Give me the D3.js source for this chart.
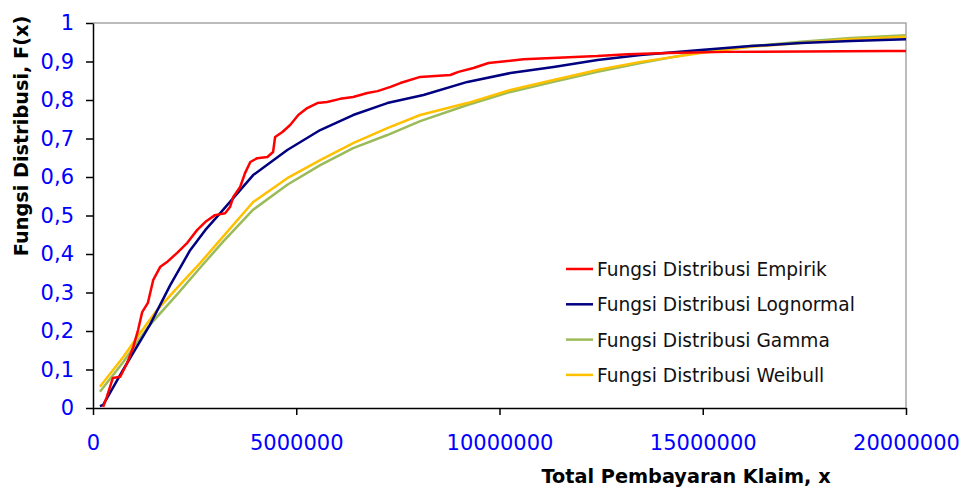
<!DOCTYPE html>
<html>
<head>
<meta charset="utf-8">
<script src="https://cdn.jsdelivr.net/npm/d3@7"></script>
<style>
body { margin: 0; background: #fff; }
svg { display: block; font-family: "DejaVu Sans", Verdana, sans-serif; }
</style>
</head>
<body>
<svg id="chart" width="969" height="492"></svg>
<script>
// x values are in millions (juta), tick labels show the full number
const xTicks = [0, 5, 10, 15, 20];
const xTickLabels = ["0", "5000000", "10000000", "15000000", "20000000"];
const yTicks = [0, 0.1, 0.2, 0.3, 0.4, 0.5, 0.6, 0.7, 0.8, 0.9, 1];
const yTickLabels = ["0", "0,1", "0,2", "0,3", "0,4", "0,5", "0,6", "0,7", "0,8", "0,9", "1"];

const seriesNames = ["Fungsi Distribusi Empirik", "Fungsi Distribusi Lognormal", "Fungsi Distribusi Gamma", "Fungsi Distribusi Weibull"];
const seriesColors = ["#ff0000", "#000080", "#9bbb59", "#ffc000"];

const empX = [0.25, 0.34, 0.49, 0.67, 0.84, 0.99, 1.11, 1.21, 1.35, 1.48, 1.65, 1.82, 2.07, 2.32, 2.56, 2.76, 3.00, 3.25, 3.37, 3.45, 3.62, 3.74, 3.87, 4.04, 4.29, 4.43, 4.48, 4.66, 4.85, 5.05, 5.27, 5.52, 5.76, 6.08, 6.40, 6.75, 7.00, 7.32, 7.56, 8.05, 8.79, 8.99, 9.36, 9.73, 10.59, 12.41, 13.15, 14.14, 15.57, 19.56, 20.0];
const empF = [0.003, 0.029, 0.078, 0.081, 0.117, 0.158, 0.203, 0.249, 0.273, 0.332, 0.366, 0.379, 0.403, 0.429, 0.462, 0.483, 0.501, 0.506, 0.522, 0.548, 0.574, 0.610, 0.639, 0.649, 0.652, 0.665, 0.704, 0.717, 0.735, 0.761, 0.779, 0.792, 0.795, 0.803, 0.808, 0.818, 0.823, 0.834, 0.844, 0.860, 0.865, 0.873, 0.883, 0.896, 0.906, 0.914, 0.919, 0.922, 0.925, 0.927, 0.927];

const logX = [0.17, 0.25, 0.74, 1.40, 1.90, 2.39, 2.76, 3.13, 3.94, 4.78, 5.59, 6.40, 7.24, 8.13, 9.21, 10.27, 11.33, 12.41, 13.47, 14.95, 16.18, 17.41, 18.65, 20.0];
const logF = [0.005, 0.008, 0.099, 0.216, 0.319, 0.410, 0.462, 0.506, 0.605, 0.670, 0.722, 0.761, 0.792, 0.813, 0.847, 0.870, 0.886, 0.904, 0.917, 0.930, 0.940, 0.948, 0.953, 0.958];

const gamX = [0.17, 0.74, 1.35, 2.07, 2.64, 3.20, 3.94, 4.78, 5.59, 6.40, 7.24, 8.05, 9.21, 10.27, 11.33, 12.41, 13.47, 14.95, 16.18, 17.41, 18.65, 20.0];
const gamF = [0.042, 0.119, 0.210, 0.295, 0.365, 0.432, 0.515, 0.580, 0.631, 0.675, 0.709, 0.745, 0.787, 0.821, 0.847, 0.873, 0.896, 0.925, 0.940, 0.951, 0.961, 0.968];

const weiX = [0.17, 0.74, 1.16, 1.58, 2.07, 2.64, 3.20, 3.94, 4.78, 5.59, 6.40, 7.24, 8.05, 9.21, 10.27, 11.33, 12.41, 13.47, 14.95, 16.18, 17.41, 18.65, 20.0];
const weiF = [0.055, 0.132, 0.195, 0.255, 0.312, 0.377, 0.445, 0.535, 0.597, 0.644, 0.688, 0.727, 0.761, 0.792, 0.826, 0.852, 0.878, 0.899, 0.922, 0.938, 0.948, 0.958, 0.964];

const svg = d3.select("#chart");
const plotLeft = 93, plotRight = 906, plotTop = 23, plotBottom = 408;

const x = d3.scaleLinear().domain([0, 20]).range([plotLeft, plotRight]);
const y = d3.scaleLinear().domain([0, 1]).range([plotBottom, plotTop]);

// frame: grey top and right border
svg.append("path")
  .attr("d", `M${plotLeft},${plotTop}H${plotRight}V${plotBottom}`)
  .attr("fill", "none")
  .attr("stroke", "#a6a6a6")
  .attr("stroke-width", 1.5);

const yAxis = svg.append("g")
  .attr("transform", `translate(${plotLeft},0)`)
  .call(d3.axisLeft(y).tickValues(yTicks).tickSize(7).tickSizeOuter(0)
    .tickFormat((d, i) => yTickLabels[i]));
yAxis.selectAll("text")
  .attr("x", -19)
  .attr("fill", "#0000ff")
  .style("font-size", "21px")
  .style("font-family", "'DejaVu Sans', sans-serif");

const xAxis = svg.append("g")
  .attr("transform", `translate(0,${plotBottom})`)
  .call(d3.axisBottom(x).tickValues(xTicks).tickSize(7).tickSizeOuter(0)
    .tickFormat((d, i) => xTickLabels[i]));
xAxis.selectAll("text")
  .attr("y", 27)
  .attr("fill", "#0000ff")
  .style("font-size", "21px")
  .style("font-family", "'DejaVu Sans', sans-serif");

[yAxis, xAxis].forEach(g => {
  g.select(".domain").attr("stroke", "#000").attr("stroke-width", 1.5);
  g.selectAll(".tick line").attr("stroke", "#000").attr("stroke-width", 1.5);
});

// curves
const line = d3.line()
  .x(d => x(d[0]))
  .y(d => y(d[1]));

const curves = [
  { xs: gamX, fs: gamF, color: seriesColors[2] },
  { xs: weiX, fs: weiF, color: seriesColors[3] },
  { xs: logX, fs: logF, color: seriesColors[1] },
  { xs: empX, fs: empF, color: seriesColors[0] }
];

curves.forEach(c => {
  svg.append("path")
    .datum(c.xs.map((v, i) => [v, c.fs[i]]))
    .attr("fill", "none")
    .attr("stroke", c.color)
    .attr("stroke-width", 2.5)
    .attr("stroke-linejoin", "round")
    .attr("d", line);
});

// legend
const legend = svg.append("g").attr("transform", "translate(566,269)");
seriesNames.forEach((name, i) => {
  const row = legend.append("g").attr("transform", `translate(0,${i * 35.3})`);
  row.append("line")
    .attr("x1", 0).attr("x2", 27)
    .attr("stroke", seriesColors[i])
    .attr("stroke-width", 2.5);
  row.append("text")
    .attr("x", 31)
    .attr("y", 7)
    .style("font-size", "18.6px")
    .attr("fill", "#111")
    .text(name);
});

// axis titles
svg.append("text")
  .attr("transform", "translate(28,136) rotate(-90)")
  .attr("text-anchor", "middle")
  .style("font-weight", "bold")
  .style("font-size", "19.3px")
  .text("Fungsi Distribusi, F(x)");

svg.append("text")
  .attr("x", 686)
  .attr("y", 483)
  .attr("text-anchor", "middle")
  .style("font-weight", "bold")
  .style("font-size", "19.3px")
  .text("Total Pembayaran Klaim, x");
</script>
</body>
</html>
